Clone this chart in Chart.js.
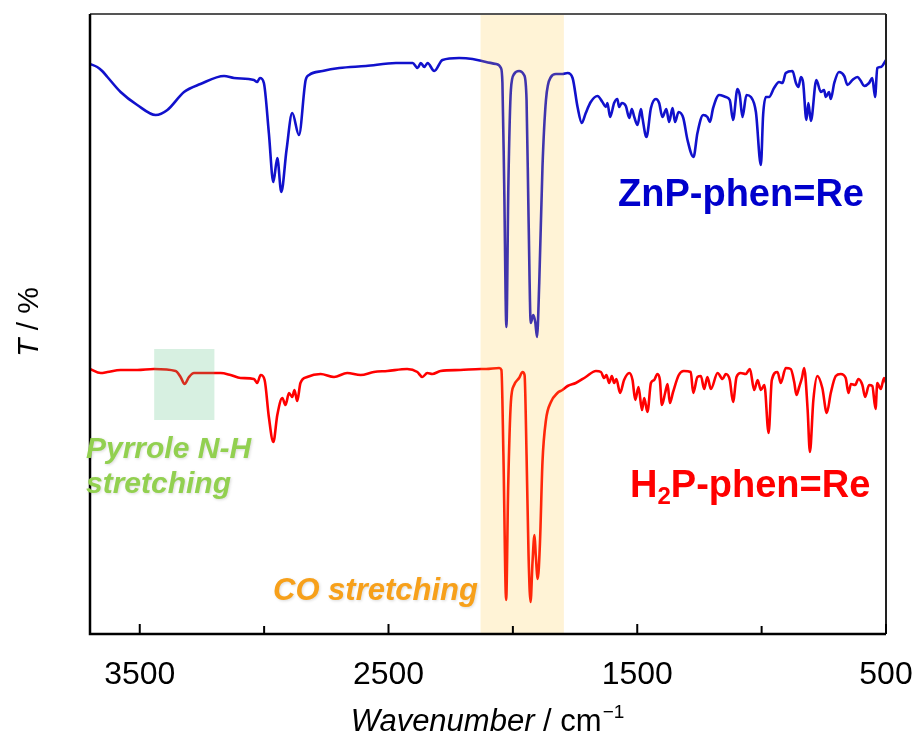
<!DOCTYPE html>
<html lang="en">
  <head>
    <meta charset="UTF-8" />
    <title>IR spectra</title>
    <script src="https://cdn.jsdelivr.net/npm/chart.js"></script>
    <style>
      body { margin: 0; background: #fff; }
    </style>
  </head>
  <body>
    <canvas id="irChart" width="919" height="740"></canvas>
    <script>
      // x tick labels (major) and unlabeled minor ticks, cm-1
      const xTickLabels = [3500, 2500, 1500, 500];
      const xMinorTicks = [3000, 2000, 1000];

      // ZnP-phen=Re (blue), transmittance in arbitrary units
      const znpWn = [3700, 3671, 3651, 3630, 3577, 3510, 3436, 3389, 3322, 3256, 3161, 3121, 3041, 3028, 3017, 3001,
        2981, 2963, 2947, 2931, 2910, 2887, 2860, 2833, 2819, 2765, 2698, 2591, 2470, 2403, 2383, 2370, 2356, 2343,
        2316, 2283, 2216, 2162, 2108, 2068, 2048, 2042, 2035, 2026, 2018, 2008, 1995, 1975, 1955, 1945, 1937, 1928,
        1918, 1910, 1903, 1894, 1881, 1867, 1847, 1827, 1801, 1780, 1760, 1740, 1723, 1707, 1687, 1660, 1640, 1626,
        1620, 1609, 1593, 1580, 1573, 1562, 1546, 1532, 1522, 1512, 1499, 1485, 1479, 1463, 1445, 1425, 1412, 1399,
        1383, 1372, 1358, 1348, 1334, 1315, 1298, 1274, 1258, 1235, 1218, 1208, 1195, 1171, 1144, 1128, 1115, 1097,
        1088, 1077, 1061, 1043, 1023, 1003, 994, 983, 970, 950, 930, 916, 903, 876, 862, 852, 842, 833, 820, 812,
        802, 780, 762, 749, 742, 729, 722, 708, 689, 668, 655, 635, 615, 601, 588, 568, 555, 544, 535, 521, 500];
      const znpT = [570, 567, 563, 557, 542, 529, 519, 524, 542, 550, 558, 556, 554, 552, 556, 551,
        501, 452, 476, 442, 484, 521, 499, 554, 559, 563, 566, 568, 571, 571, 566, 571, 567, 571,
        563, 574, 576, 575, 572, 570, 566, 551, 451, 307, 451, 544, 560, 563, 559, 534, 417, 311,
        319, 312, 297, 351, 467, 534, 557, 560, 560, 561, 556, 527, 511, 521, 532, 538, 532, 527,
        531, 517, 531, 535, 527, 531, 528, 516, 525, 517, 509, 525, 516, 497, 526, 535, 531, 517,
        525, 512, 526, 512, 522, 516, 494, 477, 501, 519, 517, 512, 526, 539, 537, 534, 514, 545,
        539, 517, 539, 537, 522, 469, 519, 537, 537, 546, 552, 551, 561, 563, 551, 547, 557, 551, 514, 531,
        513, 554, 542, 544, 537, 542, 535, 551, 562, 558, 549, 554, 557, 553, 548, 551, 556, 537, 566, 567, 574];

      // H2P-phen=Re (red)
      const h2pWn = [3700, 3657, 3630, 3577, 3510, 3443, 3356, 3336, 3320, 3302, 3282, 3175, 3135, 3095, 3041, 3028,
        3014, 2998, 2981, 2963, 2947, 2927, 2914, 2900, 2887, 2878, 2867, 2854, 2827, 2773, 2719, 2666, 2612, 2559,
        2505, 2425, 2384, 2364, 2344, 2324, 2291, 2211, 2130, 2108, 2055, 2046, 2038, 2027, 2019, 2008, 1995, 1975,
        1961, 1953, 1945, 1937, 1929, 1921, 1913, 1908, 1900, 1891, 1881, 1867, 1847, 1821, 1801, 1780, 1747, 1707,
        1666, 1646, 1633, 1624, 1613, 1602, 1593, 1584, 1569, 1553, 1532, 1519, 1508, 1495, 1481, 1472, 1459, 1445,
        1432, 1419, 1409, 1401, 1388, 1378, 1369, 1356, 1333, 1313, 1285, 1275, 1258, 1244, 1231, 1218, 1204, 1177,
        1157, 1144, 1128, 1115, 1101, 1084, 1064, 1047, 1030, 1016, 1003, 989, 972, 959, 936, 923, 903, 883, 869,
        860, 849, 838, 829, 815, 806, 792, 776, 756, 738, 722, 702, 682, 662, 651, 641, 624, 611, 595, 584, 568,
        555, 542, 535, 521, 508, 500];
      const h2pT = [265, 261, 262, 264, 264, 265, 263, 257, 250, 257, 261, 261, 259, 256, 255, 251,
        259, 254, 217, 192, 219, 236, 229, 241, 237, 244, 233, 251, 257, 260, 257, 261, 259, 262,
        263, 265, 262, 257, 261, 260, 263, 264, 265, 265, 266, 264, 179, 34, 146, 232, 249, 256,
        262, 259, 179, 79, 32, 72, 99, 79, 55, 92, 172, 214, 232, 241, 244, 248, 251, 257,
        263, 262, 256, 259, 251, 258, 251, 255, 241, 254, 261, 254, 234, 247, 224, 236, 222, 251,
        254, 260, 254, 229, 241, 250, 231, 242, 259, 263, 262, 241, 257, 258, 245, 257, 245, 261,
        255, 260, 254, 232, 257, 261, 260, 265, 244, 254, 244, 249, 201, 254, 262, 251, 266, 265, 252,
        239, 247, 256, 266, 224, 182, 234, 258, 246, 221, 241, 258, 260, 256, 241, 250, 249, 255, 249, 237, 249,
        248, 225, 251, 245, 256, 251];

      const toPoints = (wn, t) => wn.map((w, i) => ({ x: w, y: t[i] }));

      const sansFamily = "'Liberation Sans', Arial, sans-serif";

      // shaded regions (cm-1, and y range for the N-H box)
      const coBand = [2130, 1795];
      const nhBox = { from: 3442, to: 3200, yTop: 285, yBottom: 214 };

      const overlayPlugin = {
        id: "overlay",
        afterDatasetsDraw(chart) {
          const { ctx, chartArea: a, scales } = chart;
          const x = scales.x, y = scales.y;
          ctx.save();
          // CO stretching band
          let x1 = x.getPixelForValue(coBand[0]);
          let x2 = x.getPixelForValue(coBand[1]);
          ctx.fillStyle = "rgba(255, 195, 50, 0.2)";
          ctx.fillRect(x1, a.top, x2 - x1, a.bottom - a.top);
          // pyrrole N-H box
          x1 = x.getPixelForValue(nhBox.from);
          x2 = x.getPixelForValue(nhBox.to);
          const y1 = y.getPixelForValue(nhBox.yTop);
          const y2 = y.getPixelForValue(nhBox.yBottom);
          ctx.fillStyle = "rgba(87, 191, 131, 0.24)";
          ctx.fillRect(x1, y1, x2 - x1, y2 - y1);
          ctx.restore();
        },
        afterDraw(chart) {
          const { ctx, chartArea: a, scales } = chart;
          const x = scales.x;
          ctx.save();
          // frame
          ctx.lineWidth = 2;
          ctx.strokeStyle = "#555";
          ctx.beginPath();
          ctx.moveTo(a.left, a.top);
          ctx.lineTo(a.right, a.top);
          ctx.stroke();
          ctx.strokeStyle = "#222";
          ctx.beginPath();
          ctx.moveTo(a.right, a.top);
          ctx.lineTo(a.right, a.bottom);
          ctx.stroke();
          ctx.strokeStyle = "#000";
          ctx.lineWidth = 2.5;
          ctx.beginPath();
          ctx.moveTo(a.left, a.top);
          ctx.lineTo(a.left, a.bottom);
          ctx.lineTo(a.right, a.bottom);
          ctx.stroke();

          // inward ticks
          ctx.lineWidth = 2;
          ctx.strokeStyle = "#000";
          xTickLabels.forEach((v) => {
            const px = x.getPixelForValue(v);
            ctx.beginPath();
            ctx.moveTo(px, a.bottom);
            ctx.lineTo(px, a.bottom - 10);
            ctx.stroke();
          });
          xMinorTicks.forEach((v) => {
            const px = x.getPixelForValue(v);
            ctx.beginPath();
            ctx.moveTo(px, a.bottom);
            ctx.lineTo(px, a.bottom - 8);
            ctx.stroke();
          });

          // x axis title: Wavenumber / cm-1
          ctx.fillStyle = "#000";
          ctx.textBaseline = "alphabetic";
          const italic = "italic 31px " + sansFamily;
          const normal = "31px " + sansFamily;
          const sup = "19px " + sansFamily;
          ctx.font = italic;
          const w1 = ctx.measureText("Wavenumber").width;
          ctx.font = normal;
          const w2 = ctx.measureText(" / cm").width;
          ctx.font = sup;
          const w3 = ctx.measureText("\u22121").width;
          let tx = 487 - (w1 + w2 + w3) / 2;
          const ty = 731;
          ctx.textAlign = "left";
          ctx.font = italic;
          ctx.fillText("Wavenumber", tx, ty);
          tx += w1;
          ctx.font = normal;
          ctx.fillText(" / cm", tx, ty);
          tx += w2;
          ctx.font = sup;
          ctx.fillText("\u22121", tx + 1, ty - 13);

          // y axis title: T / %
          ctx.save();
          ctx.translate(38, 322);
          ctx.rotate(-Math.PI / 2);
          ctx.font = "italic 30px " + sansFamily;
          const t1 = ctx.measureText("T").width;
          ctx.font = "30px " + sansFamily;
          const t2 = ctx.measureText(" / %").width;
          let yx = -(t1 + t2) / 2;
          ctx.font = "italic 30px " + sansFamily;
          ctx.fillText("T", yx, 0);
          ctx.font = "30px " + sansFamily;
          ctx.fillText(" / %", yx + t1, 0);
          ctx.restore();

          // sample labels
          ctx.font = "bold 38px " + sansFamily;
          ctx.fillStyle = "#0000cc";
          ctx.fillText("ZnP-phen=Re", 618, 206);

          ctx.fillStyle = "#ff0000";
          ctx.fillText("H", 630, 497);
          const hw = ctx.measureText("H").width;
          ctx.font = "bold 24px " + sansFamily;
          ctx.fillText("2", 630 + hw, 504);
          const sw = ctx.measureText("2").width;
          ctx.font = "bold 38px " + sansFamily;
          ctx.fillText("P-phen=Re", 630 + hw + sw, 497);

          // band annotations
          ctx.shadowColor = "rgba(0, 0, 0, 0.15)";
          ctx.shadowBlur = 3;
          ctx.shadowOffsetX = 1;
          ctx.shadowOffsetY = 1;
          ctx.font = "italic bold 30px " + sansFamily;
          ctx.fillStyle = "#92d050";
          ctx.fillText("Pyrrole N-H", 86, 458);
          ctx.fillText("stretching", 86, 493);
          ctx.font = "italic bold 31px " + sansFamily;
          ctx.fillStyle = "#f7a01a";
          ctx.fillText("CO stretching", 273, 600);
          ctx.restore();
        },
      };

      const lineStyle = {
        borderWidth: 2.6,
        pointRadius: 0,
        cubicInterpolationMode: "monotone",
        fill: false,
      };

      const ctx = document.getElementById("irChart").getContext("2d");
      const irChart = new Chart(ctx, {
        type: "line",
        data: {
          datasets: [
            Object.assign({ label: "ZnP-phen=Re", data: toPoints(znpWn, znpT), borderColor: "#1111cc" }, lineStyle),
            Object.assign({ label: "H2P-phen=Re", data: toPoints(h2pWn, h2pT), borderColor: "#ff0000" }, lineStyle),
          ],
        },
        options: {
          responsive: false,
          animation: false,
          layout: { padding: { top: 14, right: 33, left: 0, bottom: 0 } },
          plugins: {
            legend: { display: false },
            tooltip: { enabled: false },
          },
          scales: {
            x: {
              type: "linear",
              reverse: true,
              min: 500,
              max: 3700,
              afterBuildTicks: (s) => {
                s.ticks = xTickLabels.map((v) => ({ value: v }));
              },
              afterFit: (s) => {
                s.height = 106;
                s.paddingLeft = 0;
                s.paddingRight = 0;
              },
              grid: { display: false, drawTicks: false },
              border: { display: false },
              ticks: {
                autoSkip: false,
                maxRotation: 0,
                padding: 22,
                color: "#000",
                font: { size: 32, family: sansFamily },
                callback: (v) => String(v),
              },
            },
            y: {
              min: 0,
              max: 620,
              afterFit: (s) => {
                s.width = 90;
              },
              grid: { display: false },
              border: { display: false },
              ticks: { display: false },
            },
          },
        },
        plugins: [overlayPlugin],
      });
    </script>
  </body>
</html>
